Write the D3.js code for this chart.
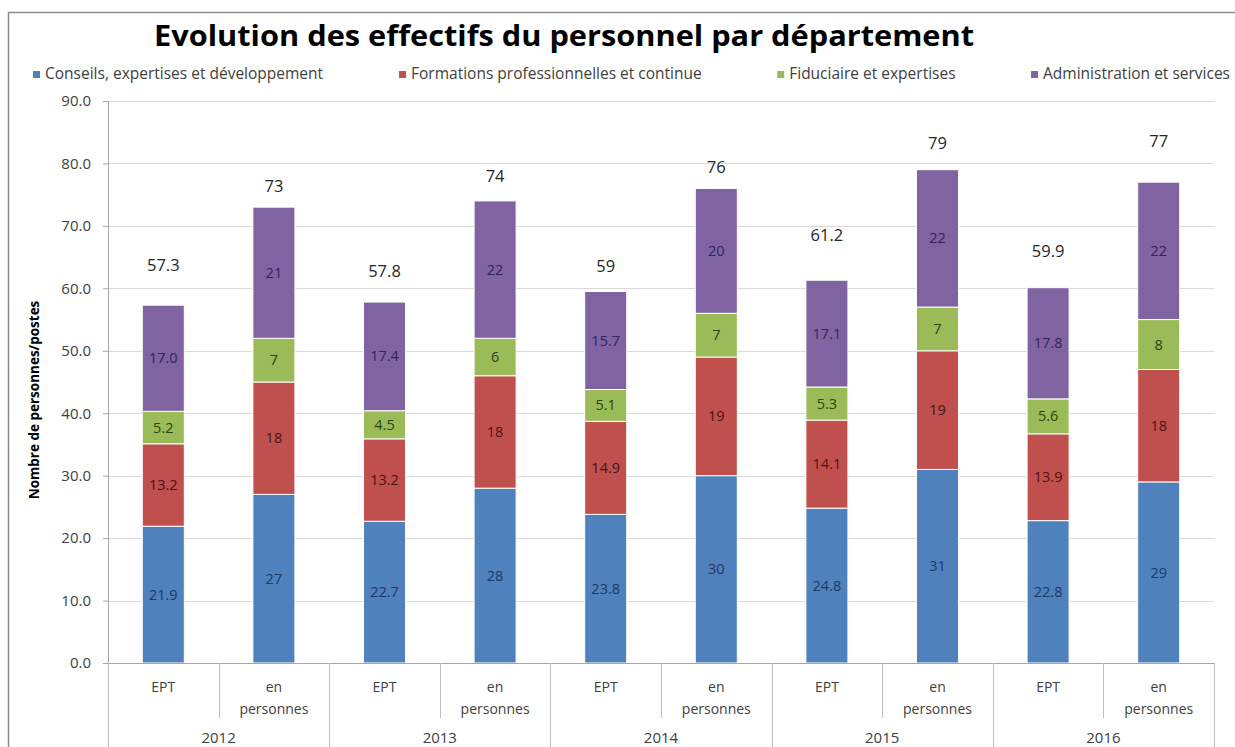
<!DOCTYPE html>
<html>
<head>
<meta charset="utf-8">
<script src="https://cdn.jsdelivr.net/npm/d3@7"></script>
<style>
  body { margin: 0; background: #fff; }
  svg { display: block; font-family: "Open Sans", "Noto Sans", sans-serif; }
</style>
</head>
<body>
<div id="chart"></div>
<script>
// Data
const years = ['2012', '2013', '2014', '2015', '2016'];
const subLabels = ['EPT', 'en personnes'];
const seriesNames = ['Conseils, expertises et développement', 'Formations professionnelles et continue',
  'Fiduciaire et expertises', 'Administration et services'];
const conseils       = [21.9, 27, 22.7, 28, 23.8, 30, 24.8, 31, 22.8, 29];
const formations     = [13.2, 18, 13.2, 18, 14.9, 19, 14.1, 19, 13.9, 18];
const fiduciaire     = [5.2, 7, 4.5, 6, 5.1, 7, 5.3, 7, 5.6, 8];
const administration = [17.0, 21, 17.4, 22, 15.7, 20, 17.1, 22, 17.8, 22];
const totalLabels    = ['57.3', '73', '57.8', '74', '59', '76', '61.2', '79', '59.9', '77'];
// level (in chart units) where each total label sits
const totalLabelLevel = [63.7, 76.3, 62.8, 77.9, 63.6, 79.4, 68.5, 83.2, 65.9, 83.6];
const yTicks = [0, 10, 20, 30, 40, 50, 60, 70, 80, 90];

const colors = ['#4f81bd', '#c0504d', '#9bbb59', '#8064a2'];
const labelColors = ['#1f3864', '#4a1515', '#2f4212', '#33245a'];

const W = 1235, H = 747;
const margin = {top: 101, left: 108, right: 21, bottom: 84};
const width = W - margin.left - margin.right;
const height = H - margin.top - margin.bottom;

// category keys: one per bar
const cats = [];
years.forEach(function(y) { subLabels.forEach(function(s) { cats.push(y + '|' + s); }); });

const rows = cats.map(function(c, i) {
  return {cat: c, i: i, s0: conseils[i], s1: formations[i], s2: fiduciaire[i], s3: administration[i]};
});

const stack = d3.stack().keys(['s0', 's1', 's2', 's3']);
const stacked = stack(rows);

const x = d3.scaleBand().domain(cats).range([0, width]).paddingInner(0.62).paddingOuter(0.31);
const y = d3.scaleLinear().domain([0, 90]).range([height, 0]);
const step = x.step();

const svg = d3.select('#chart').append('svg')
  .attr('width', W).attr('height', H);

// chart border
svg.append('path')
  .attr('d', 'M8.5,' + H + 'V12.5H' + W)
  .attr('fill', 'none').attr('stroke', '#8c8c8c').attr('stroke-width', 1.5);

// title
svg.append('text')
  .attr('x', 154).attr('y', 46)
  .attr('textLength', 820).attr('lengthAdjust', 'spacingAndGlyphs')
  .attr('font-size', 28).attr('font-weight', 700).attr('fill', '#000')
  .text('Evolution des effectifs du personnel par département');

// legend, spread across the top
const legend = svg.append('g');
const items = legend.selectAll('g').data(seriesNames).enter().append('g');
items.append('rect').attr('width', 7).attr('height', 7).attr('y', -8)
  .attr('fill', function(d, i) { return colors[i]; });
items.append('text').attr('x', 12).attr('y', 0)
  .attr('font-size', 15.5).attr('fill', '#404040')
  .text(function(d) { return d; });
const widths = [];
items.each(function() { widths.push(this.getBBox().width); });
const legendLeft = 33, legendRight = 1230;
const gap = (legendRight - legendLeft - d3.sum(widths)) / (widths.length - 1);
let lx = legendLeft;
items.attr('transform', function(d, i) {
  const t = 'translate(' + lx + ',79)';
  lx += widths[i] + gap;
  return t;
});

const g = svg.append('g')
  .attr('transform', 'translate(' + margin.left + ',' + margin.top + ')');

// gridlines
g.append('g').selectAll('line').data(yTicks.slice(1)).enter().append('line')
  .attr('x1', 0).attr('x2', width)
  .attr('y1', function(d) { return Math.round(y(d)) + 0.5; })
  .attr('y2', function(d) { return Math.round(y(d)) + 0.5; })
  .attr('stroke', '#d9d9d9').attr('stroke-width', 1.2);

// y axis
const yAxis = g.append('g')
  .call(d3.axisLeft(y).tickValues(yTicks).tickFormat(d3.format('.1f')).tickSize(5).tickPadding(12));
yAxis.select('.domain').attr('stroke', '#a6a6a6');
yAxis.selectAll('.tick line').attr('stroke', '#a6a6a6');
yAxis.selectAll('text').attr('font-size', 15).attr('fill', '#404040').attr('font-family', '"Open Sans", sans-serif');

svg.append('text')
  .attr('transform', 'translate(39,' + (margin.top + height / 2 + 18) + ') rotate(-90)')
  .attr('text-anchor', 'middle')
  .attr('font-size', 13.5).attr('font-weight', 700).attr('fill', '#000')
  .text('Nombre de personnes/postes');

// bars
const layers = g.selectAll('.layer').data(stacked).enter().append('g')
  .attr('class', 'layer')
  .attr('fill', function(d, i) { return colors[i]; });

layers.selectAll('rect').data(function(d) { return d; }).enter().append('rect')
  .attr('x', function(d) { return x(d.data.cat); })
  .attr('width', x.bandwidth())
  .attr('y', function(d) { return y(d[1]); })
  .attr('height', function(d) { return y(d[0]) - y(d[1]); })
  .attr('stroke', '#fff').attr('stroke-width', 1);

// segment labels
layers.each(function(layer, li) {
  d3.select(this).selectAll('text').data(layer).enter().append('text')
    .attr('x', function(d) { return x(d.data.cat) + x.bandwidth() / 2; })
    .attr('y', function(d) { return y((d[0] + d[1]) / 2); })
    .attr('dy', '0.35em')
    .attr('text-anchor', 'middle')
    .attr('font-size', 14.5).attr('fill', labelColors[li])
    .text(function(d) {
      const v = d[1] - d[0];
      return d.data.i % 2 === 0 ? d3.format('.1f')(v) : d3.format('d')(Math.round(v));
    });
});

// total labels
g.selectAll('.total').data(cats).enter().append('text')
  .attr('class', 'total')
  .attr('x', function(d) { return x(d) + x.bandwidth() / 2; })
  .attr('y', function(d, i) { return y(totalLabelLevel[i]); })
  .attr('dy', '0.35em')
  .attr('text-anchor', 'middle')
  .attr('font-size', 16.5).attr('fill', '#262626')
  .text(function(d, i) { return totalLabels[i]; });

// x axis: baseline, sub-category labels, year labels
const xa = g.append('g').attr('transform', 'translate(0,' + height + ')');
xa.append('line').attr('x1', 0).attr('x2', width).attr('y1', 0.5).attr('y2', 0.5)
  .attr('stroke', '#a6a6a6');

// separators
d3.range(cats.length + 1).forEach(function(k) {
  const px = Math.round(k * step) + 0.5;
  xa.append('line').attr('x1', px).attr('x2', px)
    .attr('y1', 0).attr('y2', k % 2 === 0 ? margin.bottom : 55)
    .attr('stroke', '#bfbfbf');
});

xa.selectAll('.sub').data(cats).enter().append('text')
  .attr('class', 'sub')
  .attr('x', function(d) { return x(d) + x.bandwidth() / 2; })
  .attr('text-anchor', 'middle')
  .attr('font-size', 14).attr('fill', '#404040')
  .each(function(d) {
    const parts = d.split('|')[1].split(' ');
    const t = d3.select(this);
    parts.forEach(function(p, j) {
      t.append('tspan').attr('x', x(d) + x.bandwidth() / 2).attr('y', 29 + j * 22).text(p);
    });
  });

xa.selectAll('.year').data(years).enter().append('text')
  .attr('class', 'year')
  .attr('x', function(d, i) { return (2 * i + 1) * step; })
  .attr('y', 80)
  .attr('text-anchor', 'middle')
  .attr('font-size', 15).attr('fill', '#404040')
  .text(function(d) { return d; });
</script>
</body>
</html>
